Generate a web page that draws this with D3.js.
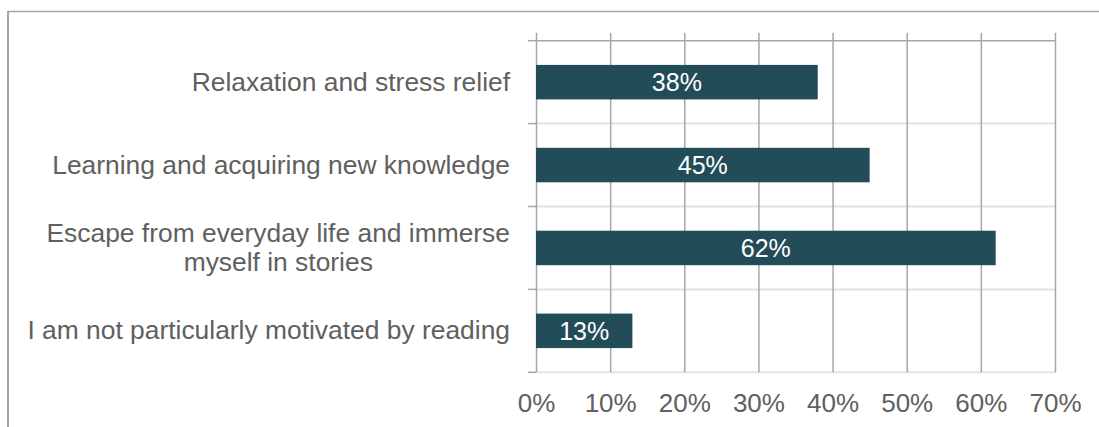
<!DOCTYPE html>
<html>
<head>
<meta charset="utf-8">
<script src="https://cdn.jsdelivr.net/npm/d3@7"></script>
<style>
  html, body { margin: 0; padding: 0; background: #fff; }
  svg { display: block; font-family: "Liberation Sans", Arial, sans-serif; }
</style>
</head>
<body>
<svg id="chart" width="1099" height="427"></svg>
<script>
// Reasons for reading (share of respondents)
const categories = [
  "Relaxation and stress relief",
  "Learning and acquiring new knowledge",
  "Escape from everyday life and immerse\nmyself in stories",
  "I am not particularly motivated by reading"
];
const values = [38, 45, 62, 13];
const tickValues = [0, 10, 20, 30, 40, 50, 60, 70];

const W = 1099, H = 427;
const plot = { left: 536, right: 1055, top: 40.7, bottom: 372.3 };
const labelRight = 510;
const barColor = "#234c59";
const textColor = "#606060";
const gridDark = "#a6a6a6";
const gridLight = "#e2e2e2";

const svg = d3.select("#chart");

const x = d3.scaleLinear().domain([0, 70]).range([plot.left, plot.right]);
const y = d3.scaleBand().domain(categories).range([plot.top, plot.bottom])
  .paddingInner(0.584).paddingOuter(0.292);

// outer frame (top and left edges)
svg.append("line").attr("x1", 8).attr("x2", W).attr("y1", 11.5).attr("y2", 11.5)
  .attr("stroke", gridDark).attr("stroke-width", 1.5);
svg.append("line").attr("x1", 8).attr("x2", 8).attr("y1", 11).attr("y2", H)
  .attr("stroke", gridDark).attr("stroke-width", 2);

// category boundaries
const bounds = d3.range(categories.length + 1).map(i => plot.top + i * y.step());
svg.append("g").selectAll("line").data(bounds).join("line")
  .attr("x1", plot.left).attr("x2", plot.right + 1)
  .attr("y1", d => d).attr("y2", d => d)
  .attr("stroke", (d, i) => i === 0 ? gridDark : gridLight)
  .attr("stroke-width", (d, i) => i === 0 ? 1.5 : 2);
// small ticks on the category axis
svg.append("g").selectAll("line").data(bounds).join("line")
  .attr("x1", plot.left - 8).attr("x2", plot.left)
  .attr("y1", d => d).attr("y2", d => d)
  .attr("stroke", gridDark).attr("stroke-width", 1.5);

// value axis: vertical gridlines and percentage labels
const xAxis = d3.axisBottom(x).tickValues(tickValues)
  .tickFormat(d => d + "%")
  .tickSize(-(plot.bottom - plot.top + 8)).tickPadding(12);
const gx = svg.append("g").attr("transform", `translate(0,${plot.bottom})`).call(xAxis);
gx.select(".domain").remove();
gx.selectAll(".tick line").attr("stroke", gridDark).attr("stroke-width", 1.5);
gx.selectAll(".tick text")
  .attr("fill", textColor).attr("font-size", 26)
  .attr("dy", null).attr("y", 39.4);

// bars
svg.append("g").selectAll("rect").data(values).join("rect")
  .attr("x", x(0))
  .attr("y", (d, i) => y(categories[i]))
  .attr("width", d => x(d) - x(0))
  .attr("height", y.bandwidth())
  .attr("fill", barColor);

// value labels inside bars
svg.append("g").selectAll("text").data(values).join("text")
  .attr("x", d => (x(0) + x(d)) / 2)
  .attr("y", (d, i) => y(categories[i]) + y.bandwidth() / 2 + 9)
  .attr("text-anchor", "middle")
  .attr("fill", "#ffffff").attr("font-size", 25)
  .text(d => d + "%");

// category labels: block right-aligned, wrapped lines centred on each other
const lineGap = 29;
const labels = svg.append("g").selectAll("text").data(categories).join("text")
  .attr("text-anchor", "middle")
  .attr("fill", textColor).attr("font-size", 26.4);
labels.selectAll("tspan").data(d => d.split("\n")).join("tspan")
  .attr("x", 0).attr("dy", (d, i) => i === 0 ? 0 : lineGap)
  .text(d => d);
labels.each(function (d) {
  const lines = d.split("\n");
  const widest = d3.max(d3.select(this).selectAll("tspan").nodes(), n => n.getComputedTextLength());
  const cy = y(d) + y.bandwidth() / 2 - (lines.length - 1) * lineGap / 2 + 8.5;
  d3.select(this).attr("transform", `translate(${labelRight - widest / 2},${cy})`);
});
</script>
</body>
</html>
